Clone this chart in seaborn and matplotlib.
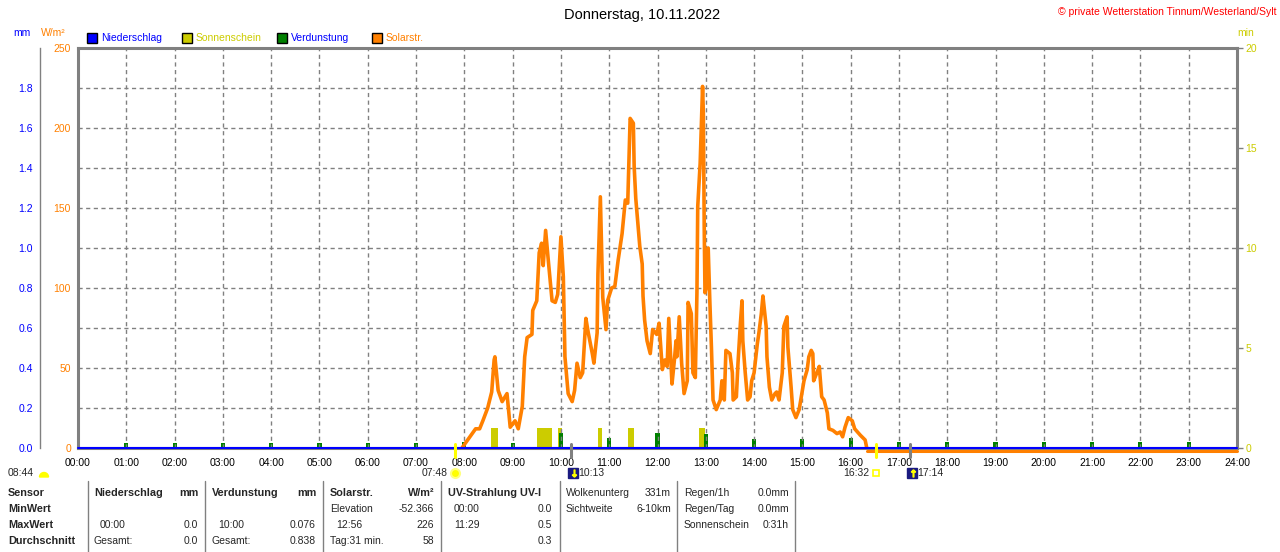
import matplotlib
matplotlib.use("Agg")
import matplotlib.pyplot as plt
import seaborn as sns
import pandas as pd
from matplotlib.patches import Rectangle, Wedge
from matplotlib.transforms import blended_transform_factory, offset_copy

# ---------------- data ----------------
title = "Donnerstag, 10.11.2022"
copyright_text = "\u00a9 private Wetterstation Tinnum/Westerland/Sylt"

solar_times = ["07:57", "08:07", "08:14", "08:19", "08:23", "08:29", "08:34", "08:37", "08:38", "08:42",
               "08:47", "08:53", "08:57", "09:03", "09:07", "09:12", "09:15", "09:18", "09:24", "09:25",
               "09:30", "09:33", "09:36", "09:38", "09:41", "09:44", "09:49", "09:53", "09:56", "10:00",
               "10:03", "10:05", "10:09", "10:14", "10:17", "10:20", "10:24", "10:27", "10:31", "10:34",
               "10:39", "10:41", "10:45", "10:46", "10:49", "10:52", "10:56", "10:58", "11:03", "11:07",
               "11:11", "11:16", "11:20", "11:23", "11:26", "11:30", "11:31", "11:33", "11:36", "11:38",
               "11:41", "11:42", "11:44", "11:47", "11:51", "11:54", "11:59", "12:02", "12:06", "12:09",
               "12:12", "12:14", "12:18", "12:21", "12:23", "12:24", "12:27", "12:30", "12:33", "12:37",
               "12:38", "12:42", "12:44", "12:47", "12:49", "12:50", "12:53", "12:56", "12:57", "12:58",
               "12:59", "13:00", "13:03", "13:05", "13:07", "13:09", "13:13", "13:18", "13:20", "13:23",
               "13:25", "13:30", "13:33", "13:34", "13:38", "13:40", "13:43", "13:45", "13:46", "13:49",
               "13:52", "13:55", "13:57", "14:00", "14:04", "14:06", "14:09", "14:11", "14:15", "14:16",
               "14:19", "14:22", "14:26", "14:28", "14:31", "14:35", "14:37", "14:41", "14:42", "14:46",
               "14:48", "14:52", "14:56", "15:00", "15:02", "15:06", "15:08", "15:11", "15:13", "15:14",
               "15:18", "15:21", "15:24", "15:27", "15:31", "15:33", "15:38", "15:43", "15:47", "15:50",
               "15:53", "15:57", "16:02", "16:05", "16:12", "16:18", "16:20"]
solar_values = [0, 7, 12, 12, 17, 25, 35, 55, 57, 36,
                29, 34, 13, 17, 12, 26, 57, 69, 71, 86,
                92, 122, 128, 114, 136, 119, 92, 91, 96, 132,
                107, 57, 34, 29, 36, 53, 44, 47, 81, 72,
                59, 53, 72, 109, 157, 94, 74, 92, 100, 101,
                117, 134, 155, 153, 206, 203, 176, 156, 138, 126,
                115, 95, 80, 67, 59, 74, 71, 78, 49, 55,
                51, 81, 40, 55, 67, 57, 82, 53, 34, 42,
                91, 84, 47, 44, 97, 151, 178, 226, 209, 140,
                97, 99, 125, 92, 63, 30, 24, 30, 42, 30,
                61, 59, 47, 30, 32, 53, 78, 92, 67, 47,
                30, 32, 42, 47, 65, 72, 84, 95, 76, 57,
                38, 30, 34, 35, 30, 47, 76, 82, 63, 38,
                24, 19, 24, 36, 42, 49, 57, 61, 59, 42,
                47, 51, 32, 30, 22, 12, 11, 9, 10, 7,
                13, 19, 17, 12, 8, 5, 0]
# night part of the solar series (zero after sunset)
solar_night_times = ["16:20", "24:00"]
solar_night_values = [0, 0]

sun_start = ["08:33", "09:30", "09:56", "10:46", "11:23", "12:52"]
sun_end = ["08:42", "09:49", "10:01", "10:51", "11:31", "12:59"]
sun_minutes = [1, 1, 1, 1, 1, 1]

evap_times = ["01:00", "02:00", "03:00", "04:00", "05:00", "06:00", "07:00", "08:00", "09:00", "10:00",
              "11:00", "12:00", "13:00", "14:00", "15:00", "16:00", "17:00", "18:00", "19:00", "20:00",
              "21:00", "22:00", "23:00"]
evap_mm = [0.025, 0.025, 0.025, 0.025, 0.025, 0.025, 0.025, 0.028, 0.025, 0.076,
           0.048, 0.075, 0.070, 0.045, 0.045, 0.048, 0.028, 0.028, 0.028, 0.028,
           0.028, 0.028, 0.028]

rain_times = ["00:00", "24:00"]
rain_mm = [0.0, 0.0]

x_labels = ["00:00", "01:00", "02:00", "03:00", "04:00", "05:00", "06:00", "07:00", "08:00", "09:00",
            "10:00", "11:00", "12:00", "13:00", "14:00", "15:00", "16:00", "17:00", "18:00", "19:00",
            "20:00", "21:00", "22:00", "23:00", "24:00"]
solar_ticks = [0, 50, 100, 150, 200, 250]
mm_ticks = [0.0, 0.2, 0.4, 0.6, 0.8, 1.0, 1.2, 1.4, 1.6, 1.8]
min_ticks = [0, 5, 10, 15, 20]

sunrise, sunset, daylength = "07:48", "16:32", "08:44"
moonset, moonrise = "10:13", "17:14"

legend_names = ["Niederschlag", "Sonnenschein", "Verdunstung", "Solarstr."]

table_header = ["Sensor", "Niederschlag", "mm", "Verdunstung", "mm", "Solarstr.", "W/m\u00b2", "UV-Strahlung UV-I"]
row_names = ["MinWert", "MaxWert", "Durchschnitt"]
rain_stats = [("", ""), ("00:00", "0.0"), ("Gesamt:", "0.0")]
evap_stats = [("", ""), ("10:00", "0.076"), ("Gesamt:", "0.838")]
solar_stats = [("Elevation", "-52.366"), ("12:56", "226"), ("Tag:31 min.", "58")]
uv_stats = [("00:00", "0.0"), ("11:29", "0.5"), ("", "0.3")]
extra1 = [("Wolkenunterg", "331m"), ("Sichtweite", "6-10km")]
extra2 = [("Regen/1h", "0.0mm"), ("Regen/Tag", "0.0mm"), ("Sonnenschein", "0:31h")]


def hours(t):
    h, m = t.split(":")
    return int(h) + int(m) / 60.0


# ---------------- style ----------------
sns.set_theme(style="white")
plt.rcParams["font.family"] = ["Liberation Sans", "DejaVu Sans"]
plt.rcParams["font.size"] = 7.5

ORANGE = "#ff8000"
BLUE = "#0000ff"
SUNC = "#cccc00"
GREEN = "#008000"
GRAY = "#808080"
NAVY = "#1a1a80"

W, H = 1280, 552
fig = plt.figure(figsize=(W / 100, H / 100), dpi=100)
fig.patch.set_facecolor("white")

L, R, T, B = 78, 1237, 48, 448
rect = [L / W, 1 - B / H, (R - L) / W, (B - T) / H]

# sunshine axis (min, right)
ax_min = fig.add_axes(rect, zorder=1)
ax_min.set_xlim(0, 24)
ax_min.set_ylim(0, 20)
ax_min.set_facecolor("white")
for s in ax_min.spines.values():
    s.set_visible(False)
ax_min.set_xticks([])
ax_min.yaxis.tick_right()
ax_min.set_yticks(min_ticks)
ax_min.set_yticklabels([str(v) for v in min_ticks])
ax_min.tick_params(axis="y", colors=GRAY, labelcolor=SUNC, length=4, width=1, pad=2, labelsize=7.5)
ax_min.grid(False)
starts = [hours(t) for t in sun_start]
widths = [hours(e) - hours(s) for s, e in zip(sun_start, sun_end)]
ax_min.bar(starts, sun_minutes, width=widths, align="edge", color=SUNC, linewidth=0)

# evaporation axis (mm, offset left)
ax_mm = fig.add_axes(rect, zorder=2)
ax_mm.patch.set_visible(False)
ax_mm.set_xlim(0, 24)
ax_mm.set_ylim(0, 2.0)
for k in ["top", "right", "bottom"]:
    ax_mm.spines[k].set_visible(False)
ax_mm.spines["left"].set_position(("axes", (40 - L) / (R - L)))
ax_mm.spines["left"].set_color(GRAY)
ax_mm.spines["left"].set_linewidth(1)
ax_mm.set_xticks([])
ax_mm.set_yticks(mm_ticks)
ax_mm.set_yticklabels([f"{v:.1f}" for v in mm_ticks])
ax_mm.tick_params(axis="y", direction="in", colors=GRAY, labelcolor=BLUE, length=4, width=1, pad=5, labelsize=7.5)
ax_mm.grid(False)
ax_mm.bar([hours(t) for t in evap_times], evap_mm, width=0.085, color=GREEN, linewidth=0)

# main solar axis
ax = fig.add_axes(rect, zorder=3)
ax.patch.set_visible(False)
ax.set_xlim(0, 24)
ax.set_ylim(0, 250)
ax.set_xticks(range(25))
ax.set_xticklabels(x_labels)
ax.set_yticks(solar_ticks)
ax.set_yticklabels([str(v) for v in solar_ticks])
ax.tick_params(axis="x", length=0, pad=7, labelsize=7.5, labelcolor="black")
ax.tick_params(axis="y", which="major", colors=GRAY, labelcolor=ORANGE, length=4, width=1, pad=1, labelsize=7.5)
ax.grid(False)
for v in range(25, 250, 25):
    ax.axhline(v, color=GRAY, lw=1, ls=(0, (3, 2.5)), zorder=0.5)
for h in range(1, 24):
    ax.axvline(h, color=GRAY, lw=1, ls=(0, (3, 2.5)), zorder=0.5)
for s in ax.spines.values():
    s.set_color(GRAY)
    s.set_linewidth(2.2)

df_solar = pd.DataFrame({"t": [hours(t) for t in solar_times], "v": solar_values})
sns.lineplot(data=df_solar, x="t", y="v", ax=ax, color=ORANGE, linewidth=2.6, estimator=None,
             sort=True, zorder=4)
df_night = pd.DataFrame({"t": [hours(t) for t in solar_night_times], "v": solar_night_values})
night_tr = offset_copy(ax.transData, fig=fig, x=0, y=-2.5, units="dots")
sns.lineplot(data=df_night, x="t", y="v", ax=ax, color=ORANGE, linewidth=2.2, estimator=None,
             zorder=4.5, clip_on=False, transform=night_tr)
df_rain = pd.DataFrame({"t": [hours(t) for t in rain_times], "v": rain_mm})
sns.lineplot(data=df_rain, x="t", y="v", ax=ax, color=BLUE, linewidth=1.5, estimator=None,
             zorder=5, clip_on=False)
ax.set_xlabel("")
ax.set_ylabel("")

# sun / moon markers below axis
tr = blended_transform_factory(ax.transData, ax.transAxes)
yl0, yl1 = -(457 - B) / (B - T), (B - 444) / (B - T)
yi = -(473 - B) / (B - T)
for t in [sunrise, sunset]:
    ax.plot([hours(t)] * 2, [yl0, yl1], transform=tr, color="#ffff00", lw=2.2, clip_on=False, zorder=6)
for t in [moonset, moonrise]:
    ax.plot([hours(t)] * 2, [yl0, yl1], transform=tr, color=GRAY, lw=2.2, clip_on=False, zorder=6)
ax.plot([hours(sunrise)], [yi], transform=tr, marker="o", ms=6.5, color="#ffff00", mec="#ffff80",
        mew=1.5, clip_on=False, zorder=6)
ax.text(hours(sunrise) - 0.15, yi, sunrise, transform=tr, ha="right", va="center", fontsize=7.5)
ax.plot([hours(sunset)], [yi], transform=tr, marker="s", ms=4.5, mfc="white", mec="#ffff00",
        mew=1.2, clip_on=False, zorder=6)
ax.text(hours(sunset) - 0.15, yi, sunset, transform=tr, ha="right", va="center", fontsize=7.5)
for t in [moonset, moonrise]:
    ax.plot([hours(t) + 0.03], [yi], transform=tr, marker="s", ms=7.5, color=NAVY, clip_on=False, zorder=6)
    ax.plot([hours(t) + 0.05], [yi], transform=tr, marker="$\u2191$" if t == moonrise else "$\u2193$",
            ms=5, color="#ffff00", clip_on=False, zorder=7)
    ax.text(hours(t) + 0.15, yi, t, transform=tr, ha="left", va="center", fontsize=7.5)

# ---------------- overlay in pixel coordinates ----------------
ov = fig.add_axes([0, 0, 1, 1], zorder=10)
ov.set_xlim(0, W)
ov.set_ylim(H, 0)
ov.axis("off")
ov.patch.set_visible(False)

ov.text(642, 15, title, ha="center", va="center", fontsize=10.5, color="black")
ov.text(1277, 12, copyright_text, ha="right", va="center", fontsize=7.5, color="#ff0000")
ov.text(22, 33, "mm", ha="center", va="center", fontsize=7.5, color=BLUE)
ov.text(53, 33, "W/m\u00b2", ha="center", va="center", fontsize=7.5, color=ORANGE)
ov.text(1246, 33, "min", ha="center", va="center", fontsize=7.5, color=SUNC)

leg_x = [87, 182, 277, 372]
leg_colors = [BLUE, SUNC, GREEN, ORANGE]
leg_text_colors = [BLUE, SUNC, BLUE, ORANGE]
for x0, name, c, tc in zip(leg_x, legend_names, leg_colors, leg_text_colors):
    ov.add_patch(Rectangle((x0, 33), 10, 10, facecolor=c, edgecolor="black", lw=1))
    ov.text(x0 + 14, 38, name, ha="left", va="center", fontsize=7.5, color=tc)

# day length icon
ov.text(8, 473, daylength, ha="left", va="center", fontsize=7.5)
ov.add_patch(Wedge((44, 477), 4.5, 180, 360, facecolor="#ffff00", edgecolor="#ffff00"))

# table
for x in [88, 205, 323, 441, 560, 677, 795]:
    ov.plot([x, x], [481, 552], color=GRAY, lw=1)
rows_y = [493, 509, 525, 541]
ov.text(8, rows_y[0], table_header[0], fontsize=7.8, fontweight="bold", va="center")
for i, n in enumerate(row_names):
    ov.text(8, rows_y[i + 1], n, fontsize=7.8, fontweight="bold", va="center")
heads = [(94, table_header[1], 198, table_header[2]), (212, table_header[3], 316, table_header[4]),
         (330, table_header[5], 434, table_header[6]), (448, table_header[7], None, None)]
for x0, a, x1, b in heads:
    ov.text(x0, rows_y[0], a, fontsize=7.8, fontweight="bold", va="center")
    if b:
        ov.text(x1, rows_y[0], b, fontsize=7.8, fontweight="bold", va="center", ha="right")


def col(stats, xl, xr, indent_rows=(), indent=6, start=1):
    for i, (a, b) in enumerate(stats):
        y = rows_y[start + i]
        xa = xl + (indent if (start + i) in indent_rows else 0)
        if a:
            ov.text(xa, y, a, fontsize=7.5, va="center", ha="left")
        if b:
            ov.text(xr, y, b, fontsize=7.5, va="center", ha="right")


col(rain_stats, 94, 198, indent_rows=(2,))
col(evap_stats, 212, 316, indent_rows=(2,))
col(solar_stats, 330, 434, indent_rows=(2,))
col(uv_stats, 448, 552, indent_rows=(1, 2))
col(extra1, 566, 671, start=0)
col(extra2, 684, 789, start=0)

fig.savefig("out.png", dpi=100, facecolor="white")
